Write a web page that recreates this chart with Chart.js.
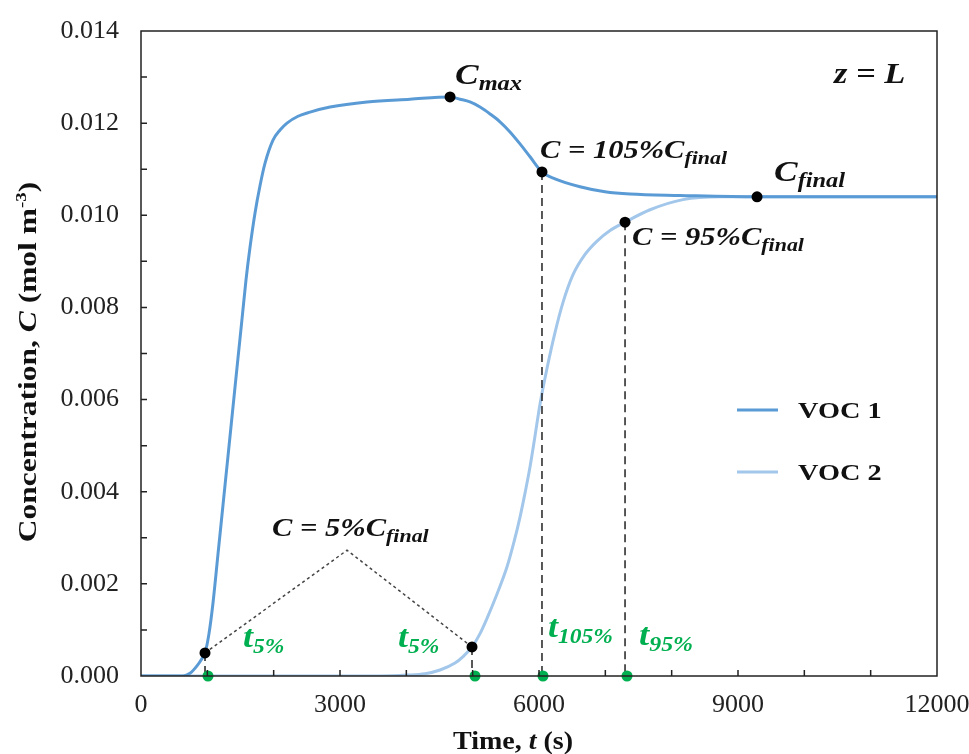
<!DOCTYPE html>
<html>
<head>
<meta charset="utf-8">
<title>VOC breakthrough at z = L</title>
<style>
  html, body { margin: 0; padding: 0; background: #fff; }
  #wrap { width: 969px; height: 754px; }
</style>
</head>
<body>
<div id="wrap"><canvas id="breakChart" width="969" height="754"></canvas></div>
<script src="https://cdn.jsdelivr.net/npm/chart.js"></script>
<script>
// outlet concentration, VOC 1 (s, mol m-3)
var voc1Time = [0, 500, 633, 739, 844, 920, 965, 1025, 1085, 1161, 1236, 1312, 1387, 1462, 1523, 1583, 1643, 1719, 1794, 1870, 1990, 2096, 2201, 2367, 2548, 2850, 3407, 4055, 4659, 4809, 4960, 5111, 5262, 5412, 5563, 5714, 5865, 6045, 6241, 6618, 6995, 7372, 8126, 9287, 10500, 12000];
var voc1Conc = [0, 0, 0, 0.00006, 0.00022, 0.00038, 0.0005, 0.00092, 0.00158, 0.00265, 0.00371, 0.00478, 0.00584, 0.0069, 0.00775, 0.0086, 0.0093, 0.01005, 0.01064, 0.01113, 0.01163, 0.01185, 0.0120, 0.01215, 0.01224, 0.01235, 0.01246, 0.01252, 0.01257, 0.01252, 0.01246, 0.01235, 0.0122, 0.01203, 0.01181, 0.01155, 0.01127, 0.01094, 0.01079, 0.01062, 0.01051, 0.01046, 0.01043, 0.0104, 0.0104, 0.0104];

// outlet concentration, VOC 2
var voc2Time = [0, 3603, 4010, 4282, 4508, 4734, 4855, 4990, 5111, 5216, 5367, 5518, 5623, 5714, 5789, 5865, 5940, 6015, 6121, 6242, 6362, 6513, 6694, 6875, 7071, 7297, 7674, 8171, 8729, 10500, 12000];
var voc2Conc = [0, 0, 0.00002, 0.00005, 0.00013, 0.00028, 0.00042, 0.00063, 0.00092, 0.00125, 0.00178, 0.00237, 0.00291, 0.00345, 0.00397, 0.00454, 0.00521, 0.0059, 0.00668, 0.00746, 0.00811, 0.00871, 0.00915, 0.00944, 0.00967, 0.00985, 0.01012, 0.01034, 0.0104, 0.0104, 0.0104];

// characteristic points: 5% (VOC 1), 5% (VOC 2), Cmax, 105%, 95%, Cfinal
var keyTime = [965, 4990, 4659, 6045, 7297, 9287];
var keyConc = [0.0005, 0.00063, 0.01257, 0.01094, 0.00985, 0.0104];

var markTime = [1010, 5035, 6060, 7327];

// dotted bracket joining the two 5% points
var bracketTime = [965, 3106, 4990];
var bracketConc = [0.0005, 0.00273, 0.00063];

var xTicks = [0, 3000, 6000, 9000, 12000];
var yTicks = [0, 0.002, 0.004, 0.006, 0.008, 0.010, 0.012, 0.014];

var blue1 = '#5B9BD5';
var blue2 = '#A2C7EA';
var green = '#00B050';
var serif = '"Liberation Serif", "Times New Roman", serif';

function pairs(xs, ys) {
  return xs.map(function (x, i) { return { x: x, y: ys[i] }; });
}

// vertical drop lines from the 5%, 105% and 95% points to the time axis
var dropPts = [];
[0, 1, 3, 4].forEach(function (i) {
  dropPts.push({ x: keyTime[i], y: keyConc[i] });
  dropPts.push({ x: keyTime[i], y: 0 });
  dropPts.push({ x: keyTime[i], y: null });
});

// draws a run of text pieces with mixed fonts, optionally stretched sideways
function rich(ctx, x, y, parts, sx, align) {
  sx = sx || 1;
  var w = 0;
  parts.forEach(function (p) { ctx.font = p.font; w += ctx.measureText(p.text).width; });
  ctx.save();
  ctx.translate(x, y);
  ctx.scale(sx, 1);
  var cx = 0;
  if (align === 'center') cx = -w / 2;
  ctx.textBaseline = 'alphabetic';
  ctx.textAlign = 'left';
  parts.forEach(function (p) {
    ctx.font = p.font;
    ctx.fillStyle = p.color || '#111';
    ctx.fillText(p.text, cx, p.dy || 0);
    cx += ctx.measureText(p.text).width;
  });
  ctx.restore();
}

function bi(size) { return 'bold italic ' + size + 'px ' + serif; }
function b(size) { return 'bold ' + size + 'px ' + serif; }

function cEq(pct) {
  return [
    { text: 'C = ' + pct + '%C', font: bi(25) },
    { text: 'final', font: bi(18), dy: 6 }
  ];
}
function tSub(sub) {
  return [
    { text: 't', font: bi(32), color: green },
    { text: sub, font: bi(21), dy: 6, color: green }
  ];
}

var frame = {
  id: 'frame',
  afterDraw: function (chart) {
    var ctx = chart.ctx, a = chart.chartArea;
    var xs = chart.scales.x, ys = chart.scales.y;
    ctx.save();
    ctx.strokeStyle = '#222';
    ctx.lineWidth = 1.5;
    ctx.strokeRect(a.left, a.top, a.right - a.left, a.bottom - a.top);
    // inward tick marks every 1000 s and 0.001 mol m-3
    ctx.beginPath();
    for (var t = 1000; t < 12000; t += 1000) {
      var px = xs.getPixelForValue(t);
      ctx.moveTo(px, a.bottom); ctx.lineTo(px, a.bottom - 6);
    }
    for (var c = 1; c < 14; c++) {
      var py = ys.getPixelForValue(c / 1000);
      ctx.moveTo(a.left, py); ctx.lineTo(a.left + 6, py);
    }
    ctx.stroke();
    ctx.restore();
  },
  afterDatasetsDraw: function (chart) {
    var ctx = chart.ctx;
    var xs = chart.scales.x, ys = chart.scales.y;
    function X(t) { return xs.getPixelForValue(t); }
    function Y(c) { return ys.getPixelForValue(c); }
    var sx = 1.22;

    rich(ctx, 834, 83, [{ text: 'z = L', font: bi(30) }], 1.15);
    rich(ctx, X(keyTime[2]) + 5, Y(keyConc[2]) - 13, [
      { text: 'C', font: bi(29) },
      { text: 'max', font: bi(20), dy: 6 }
    ], sx);
    rich(ctx, X(keyTime[3]) - 2, Y(keyConc[3]) - 14, cEq(105), sx);
    rich(ctx, X(keyTime[5]) + 17, Y(keyConc[5]) - 16, [
      { text: 'C', font: bi(29) },
      { text: 'final', font: bi(20), dy: 6 }
    ], sx);
    rich(ctx, X(keyTime[4]) + 7, Y(keyConc[4]) + 23, cEq(95), sx);
    rich(ctx, X(bracketTime[1]) - 75, Y(bracketConc[1]) - 14, cEq(5), sx);

    rich(ctx, 243, 647, tSub('5%'), 1.12);
    rich(ctx, 398, 647, tSub('5%'), 1.12);
    rich(ctx, X(markTime[2]) + 5, 637, tSub('105%'), 1.12);
    rich(ctx, X(markTime[3]) + 12, 645, tSub('95%'), 1.14);

    // legend
    ctx.save();
    ctx.lineWidth = 3;
    [[blue1, 'VOC 1', 410], [blue2, 'VOC 2', 472]].forEach(function (e) {
      ctx.strokeStyle = e[0];
      ctx.beginPath(); ctx.moveTo(737, e[2]); ctx.lineTo(778, e[2]); ctx.stroke();
      rich(ctx, 798, e[2] + 8, [{ text: e[1], font: b(24) }], 1.18);
    });
    ctx.restore();

    // axis titles
    rich(ctx, 513, 749, [
      { text: 'Time, ', font: b(25) },
      { text: 't', font: bi(25) },
      { text: ' (s)', font: b(25) }
    ], 1.12, 'center');
    ctx.save();
    ctx.translate(36, 362);
    ctx.rotate(-Math.PI / 2);
    rich(ctx, 0, 0, [
      { text: 'Concentration, ', font: b(25) },
      { text: 'C', font: bi(25) },
      { text: ' (mol m', font: b(25) },
      { text: '-3', font: b(15), dy: -10 },
      { text: ')', font: b(25) }
    ], 1.26, 'center');
    ctx.restore();
  }
};

new Chart(document.getElementById('breakChart'), {
  type: 'line',
  data: {
    datasets: [
      { data: pairs(keyTime, keyConc), showLine: false, pointRadius: 5.5, pointBackgroundColor: '#000', pointBorderWidth: 0, order: 0 },
      { data: pairs(markTime, markTime.map(function () { return 0; })), showLine: false, pointRadius: 5.5, pointBackgroundColor: green, pointBorderWidth: 0, clip: false, order: 0 },
      { data: pairs(voc1Time, voc1Conc), borderColor: blue1, borderWidth: 3, pointRadius: 0, cubicInterpolationMode: 'monotone', order: 2 },
      { data: pairs(voc2Time, voc2Conc), borderColor: blue2, borderWidth: 3, pointRadius: 0, cubicInterpolationMode: 'monotone', order: 3 },
      { data: dropPts, borderColor: '#222', borderWidth: 1.5, borderDash: [8, 5], pointRadius: 0, spanGaps: false, order: 1 },
      { data: pairs(bracketTime, bracketConc), borderColor: '#444', borderWidth: 1.5, borderDash: [3, 3], pointRadius: 0, order: 1 }
    ]
  },
  options: {
    responsive: false,
    animation: false,
    layout: { padding: { top: 31, right: 32, left: 0, bottom: 0 } },
    plugins: { legend: { display: false }, tooltip: { enabled: false } },
    scales: {
      x: {
        type: 'linear', min: 0, max: 12000,
        afterFit: function (s) { s.height = 78; s.paddingLeft = 0; s.paddingRight = 0; },
        afterBuildTicks: function (s) { s.ticks = xTicks.map(function (v) { return { value: v }; }); },
        grid: { display: false, drawTicks: false },
        border: { display: false },
        ticks: { padding: 14, maxRotation: 0, autoSkip: false, color: '#222', font: { family: serif, size: 26 },
          callback: function (v) { return String(v); } }
      },
      y: {
        min: 0, max: 0.014,
        afterFit: function (s) { s.width = 141; s.paddingTop = 0; s.paddingBottom = 0; },
        afterBuildTicks: function (s) { s.ticks = yTicks.map(function (v) { return { value: v }; }); },
        grid: { display: false, drawTicks: false },
        border: { display: false },
        ticks: { padding: 22, autoSkip: false, color: '#222', font: { family: serif, size: 26 },
          callback: function (v) { return v.toFixed(3); } }
      }
    }
  },
  plugins: [frame]
});
</script>
</body>
</html>
